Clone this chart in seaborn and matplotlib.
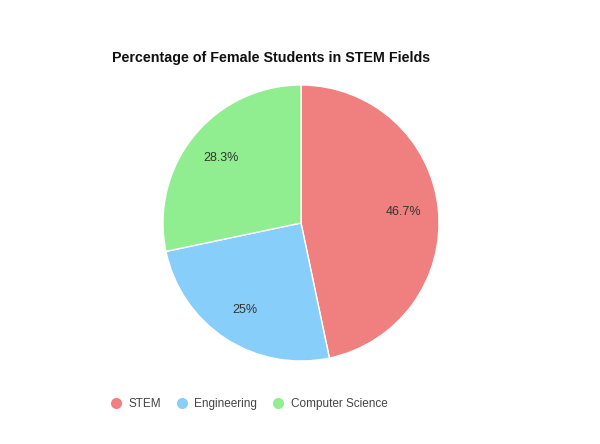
import seaborn as sns
import matplotlib.pyplot as plt
from matplotlib.lines import Line2D

fields = ["STEM", "Engineering", "Computer Science"]
shares = [46.7, 25.0, 28.3]
pct_labels = ["46.7%", "25%", "28.3%"]
colors = ["#F08080", "#87CEFA", "#90EE90"]

sns.set_theme(style="white")
plt.rcParams["font.family"] = ["Liberation Sans", "DejaVu Sans"]

fig = plt.figure(figsize=(6, 4.44), dpi=100)
ax = fig.add_axes([163 / 600, 83 / 444, 276 / 600, 276 / 444])

wedges, texts, autotexts = ax.pie(
    shares,
    colors=colors,
    startangle=90,
    counterclock=False,
    autopct="%1.1f%%",
    pctdistance=0.75,
    wedgeprops={"edgecolor": "white", "linewidth": 1},
)
for t, lab in zip(autotexts, pct_labels):
    t.set_text(lab)
    t.set_fontsize(9)
    t.set_color("#333333")
ax.set_aspect("equal")
ax.set_xlim(-1, 1)
ax.set_ylim(-1, 1)

fig.text(112 / 600, 1 - 58 / 444, "Percentage of Female Students in STEM Fields",
         fontsize=10.3, fontweight="bold", color="#111111", va="center", ha="left")

handles = [Line2D([0], [0], marker="o", color="w", markerfacecolor=c,
                  markersize=9, linestyle="") for c in colors]
leg = fig.legend(handles, fields, loc="center left",
                 bbox_to_anchor=(98 / 600, 1 - 404 / 444), ncol=3, frameon=False,
                 fontsize=8.5, handletextpad=0.45, columnspacing=1.2, handlelength=1.2)
for t in leg.get_texts():
    t.set_color("#444444")

fig.savefig("out.png", dpi=100, facecolor="white")
